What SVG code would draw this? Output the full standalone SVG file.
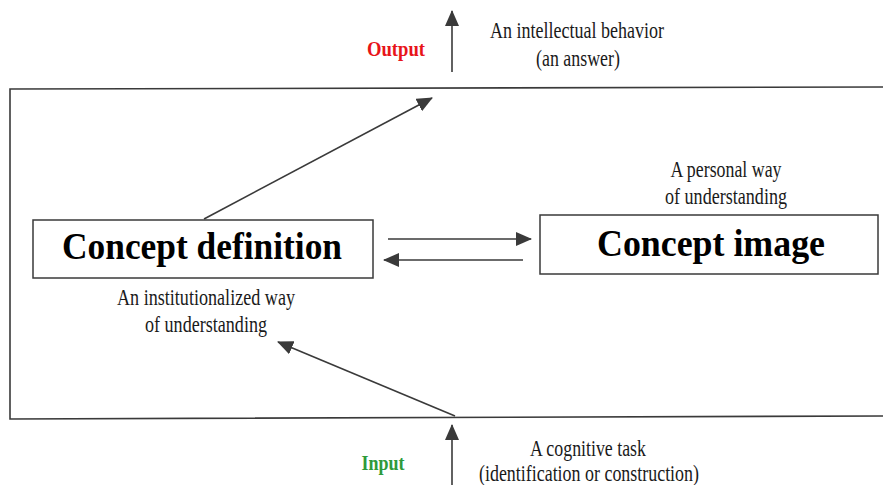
<svg xmlns="http://www.w3.org/2000/svg" width="883" height="485" viewBox="0 0 883 485">
  <style>
    .line { stroke: #3a3a3a; stroke-width: 1.6; fill: none; }
    .box { stroke: #3a3a3a; stroke-width: 1.5; fill: #ffffff; }
    .lbl { font-family: "Liberation Serif", "Times New Roman", serif; font-size: 23px; fill: #1a1a1a; text-anchor: middle; }
    .title { font-family: "Liberation Serif", "Times New Roman", serif; font-size: 37px; font-weight: bold; fill: #000000; text-anchor: middle; }
    .io { font-family: "Liberation Serif", "Times New Roman", serif; font-size: 22px; font-weight: bold; text-anchor: middle; }
  </style>
  <defs>
    <marker id="arrow" viewBox="0 0 16 14" refX="15" refY="7" markerWidth="16" markerHeight="14" markerUnits="userSpaceOnUse" orient="auto">
      <path d="M0,0 L16,7 L0,14 Z" fill="#3a3a3a"/>
    </marker>
  </defs>
  <rect width="883" height="485" fill="#ffffff"/>

  <!-- cognitive system frame (open on the right) -->
  <g id="frame">
    <polyline class="line" points="883,87 10,89 10,419 883,416"/>
  </g>

  <g id="concept-definition">
    <rect class="box" x="33" y="220" width="340" height="58"/>
    <text class="title" x="202" y="259" textLength="280" lengthAdjust="spacingAndGlyphs">Concept definition</text>
    <text class="lbl" x="206" y="305" textLength="178" lengthAdjust="spacingAndGlyphs">An institutionalized way</text>
    <text class="lbl" x="206" y="332" textLength="122" lengthAdjust="spacingAndGlyphs">of understanding</text>
  </g>

  <g id="concept-image">
    <rect class="box" x="540" y="215" width="338" height="59"/>
    <text class="title" x="711" y="256" textLength="228" lengthAdjust="spacingAndGlyphs">Concept image</text>
    <text class="lbl" x="726" y="177" textLength="111" lengthAdjust="spacingAndGlyphs">A personal way</text>
    <text class="lbl" x="726" y="204" textLength="122" lengthAdjust="spacingAndGlyphs">of understanding</text>
  </g>

  <g id="output">
    <text class="io" x="396" y="56" fill="#e8141a" textLength="58" lengthAdjust="spacingAndGlyphs">Output</text>
    <text class="lbl" x="577" y="38" textLength="174" lengthAdjust="spacingAndGlyphs">An intellectual behavior</text>
    <text class="lbl" x="578" y="66" textLength="84" lengthAdjust="spacingAndGlyphs">(an answer)</text>
  </g>

  <g id="input">
    <text class="io" x="383" y="470" fill="#2e9a3a" textLength="43" lengthAdjust="spacingAndGlyphs">Input</text>
    <text class="lbl" x="588" y="456" textLength="116" lengthAdjust="spacingAndGlyphs">A cognitive task</text>
    <text class="lbl" x="589" y="481" textLength="220" lengthAdjust="spacingAndGlyphs">(identification or construction)</text>
  </g>

  <g id="connectors">
    <line class="line" x1="452" y1="72" x2="452" y2="11" marker-end="url(#arrow)"/>
    <line class="line" x1="452" y1="485" x2="452" y2="425" marker-end="url(#arrow)"/>
    <line class="line" x1="204" y1="219" x2="432" y2="98" marker-end="url(#arrow)"/>
    <line class="line" x1="455" y1="416" x2="278" y2="342" marker-end="url(#arrow)"/>
    <line class="line" x1="388" y1="239" x2="531" y2="239" marker-end="url(#arrow)"/>
    <line class="line" x1="523" y1="260" x2="384" y2="260" marker-end="url(#arrow)"/>
  </g>
</svg>
